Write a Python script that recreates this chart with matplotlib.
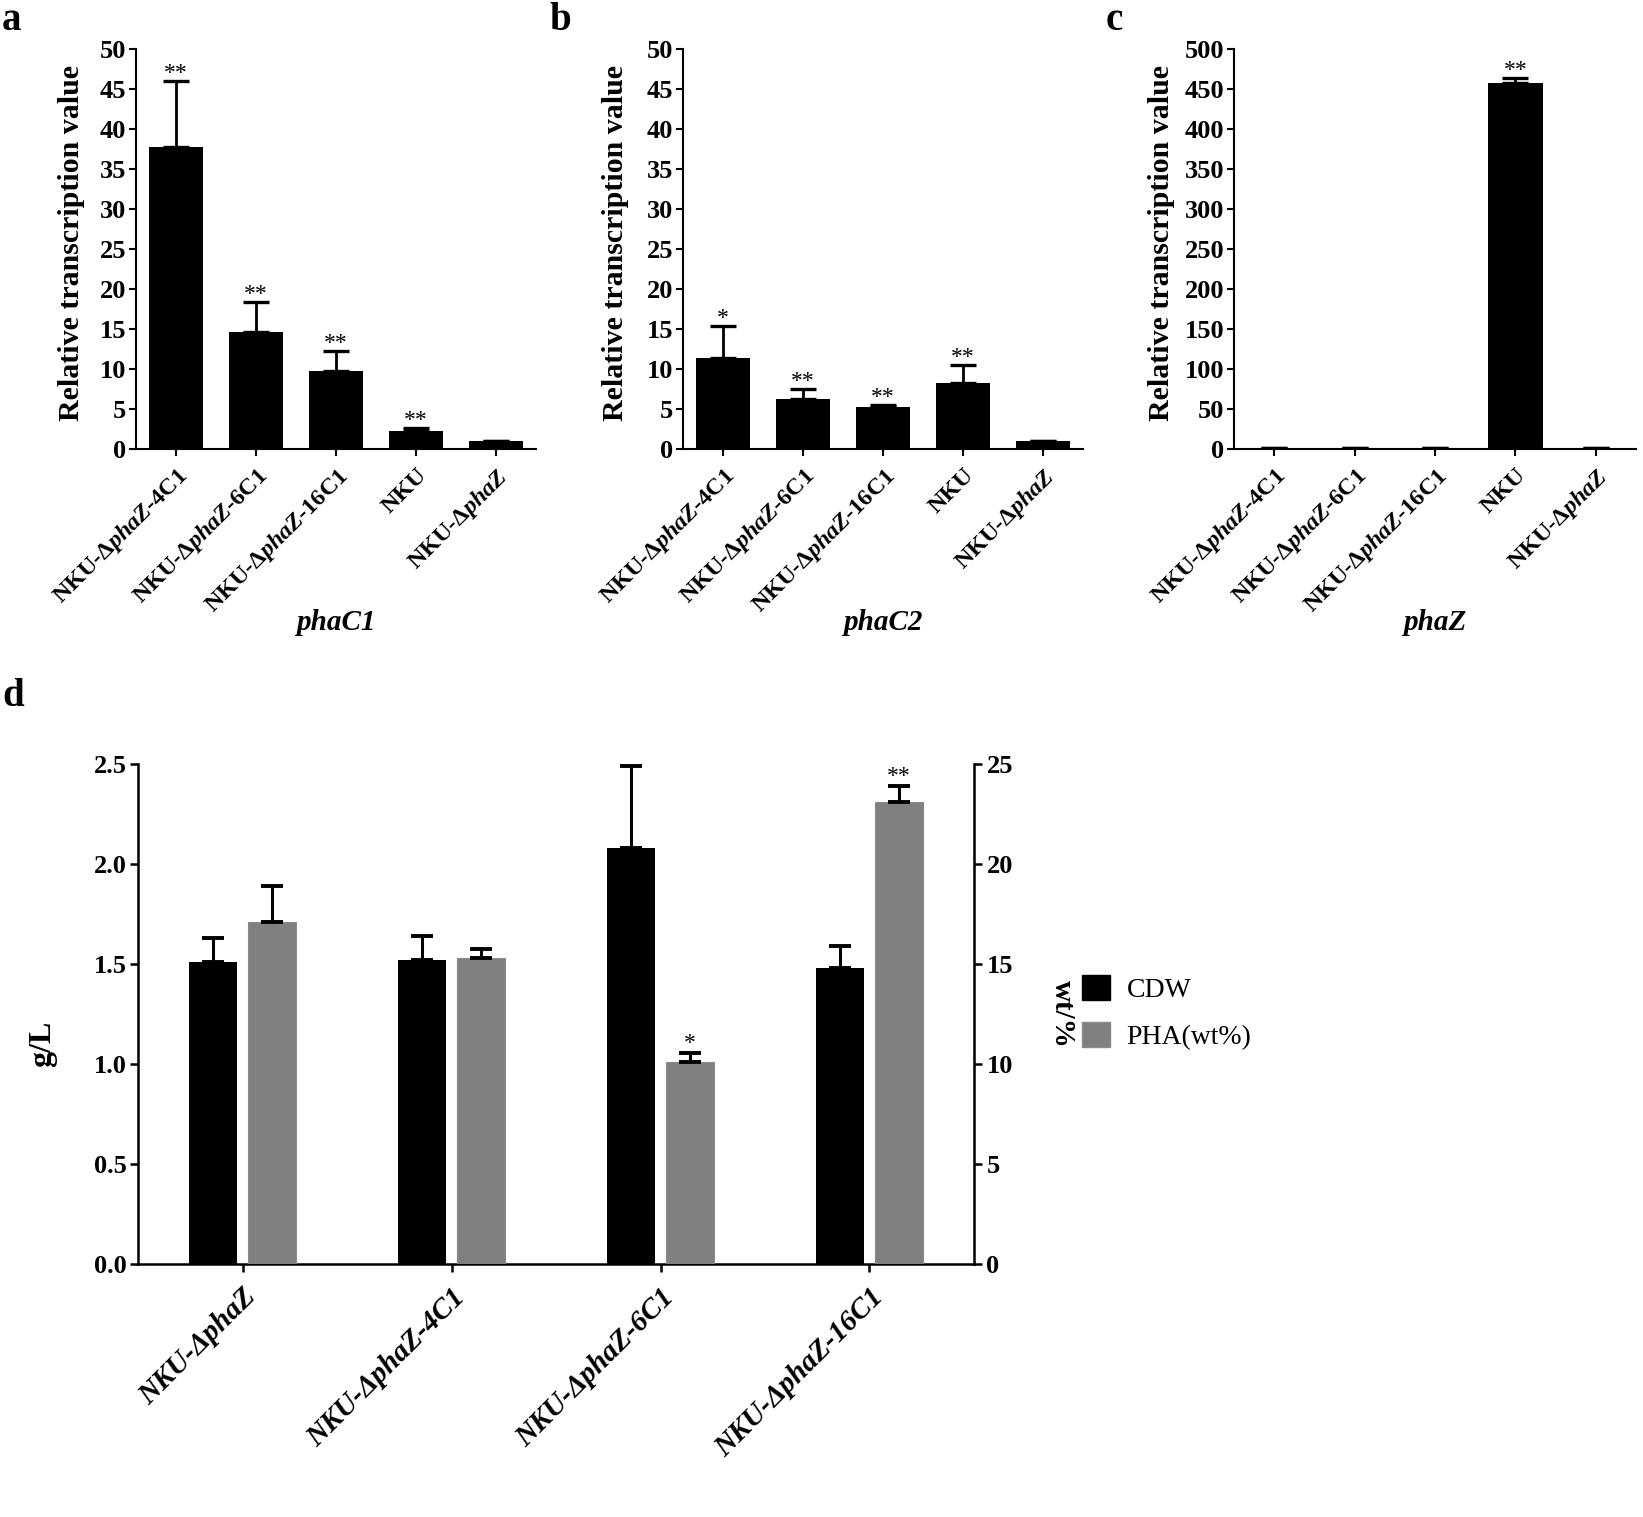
import numpy as np
import matplotlib
matplotlib.use("Agg")
import matplotlib.pyplot as plt
from matplotlib.patches import Patch

plt.rcParams['font.family'] = ['Liberation Serif', 'DejaVu Serif']
plt.rcParams['mathtext.fontset'] = 'custom'
plt.rcParams['mathtext.rm'] = 'Liberation Serif:bold'
plt.rcParams['mathtext.bf'] = 'Liberation Serif:bold'
plt.rcParams['mathtext.it'] = 'Liberation Serif:italic:bold'

# ---------------- data ----------------
strains_abc = ["NKU-\u0394$\\mathit{phaZ}$-4C1", "NKU-\u0394$\\mathit{phaZ}$-6C1",
               "NKU-\u0394$\\mathit{phaZ}$-16C1", "NKU", "NKU-\u0394$\\mathit{phaZ}$"]

phaC1_mean = [37.7, 14.6, 9.7, 2.3, 1.0]
phaC1_sd = [8.3, 3.8, 2.5, 0.3, 0.05]
phaC1_sig = ["**", "**", "**", "**", ""]

phaC2_mean = [11.4, 6.3, 5.2, 8.3, 1.0]
phaC2_sd = [4.0, 1.2, 0.3, 2.2, 0.05]
phaC2_sig = ["*", "**", "**", "**", ""]

phaZ_mean = [0.9, 1.3, 1.0, 458.0, 1.0]
phaZ_sd = [0.1, 0.2, 0.1, 6.0, 0.1]
phaZ_sig = ["", "", "", "**", ""]

strains_d = ["NKU-\u0394phaZ", "NKU-\u0394phaZ-4C1", "NKU-\u0394phaZ-6C1", "NKU-\u0394phaZ-16C1"]
cdw_mean = [1.51, 1.52, 2.08, 1.48]
cdw_sd = [0.12, 0.12, 0.41, 0.11]
cdw_sig = ["", "", "", ""]
pha_mean = [17.1, 15.3, 10.1, 23.1]
pha_sd = [1.8, 0.45, 0.45, 0.8]
pha_sig = ["", "", "*", "**"]

# ---------------- figure ----------------
W, H = 1643, 1517
fig = plt.figure(figsize=(W / 100, H / 100), dpi=100)


def px_axes(l, t, r, b):
    return fig.add_axes([l / W, 1 - b / H, (r - l) / W, (b - t) / H])


def style_axes(ax, lw=1.5):
    for s in ["top", "right"]:
        ax.spines[s].set_visible(False)
    for s in ["left", "bottom"]:
        ax.spines[s].set_linewidth(lw)
    ax.tick_params(direction="out", width=lw, length=5, pad=2)


def bar_panel(ax, means, sds, sigs, ymax, yticks, gene, ylab_x):
    x = np.arange(len(means))
    ax.bar(x, means, width=0.68, color="black", zorder=2)
    ax.errorbar(x, means, yerr=[np.zeros(len(sds)), sds], fmt="none",
                ecolor="black", elinewidth=2.0, capsize=9.5, capthick=2.4, zorder=3)
    for xi, m, s, t in zip(x, means, sds, sigs):
        if t:
            ax.annotate(t, (xi, m + s), xytext=(0, 1.5), textcoords="offset points",
                        ha="center", va="baseline", fontsize=17)
    ax.set_xlim(-0.5, len(means) - 0.5)
    ax.set_ylim(0, ymax)
    ax.set_yticks(yticks)
    ax.set_xticks(x)
    ax.set_xticklabels(strains_abc, rotation=45, ha="right", rotation_mode="anchor",
                       fontsize=17.5, fontweight="bold")
    for lab in ax.get_yticklabels():
        lab.set_fontsize(19)
        lab.set_fontweight("bold")
    style_axes(ax)
    ax.set_ylabel("Relative transcription value", fontsize=21.5, fontweight="bold")
    ax.yaxis.set_label_coords(ylab_x, 0.515)
    ax.tick_params(axis="x", pad=6)
    bb = ax.get_position()
    fig.text((bb.x0 + bb.x1) / 2, 1 - 622 / H, gene, fontsize=21, fontweight="bold",
             fontstyle="italic", ha="center", va="center")


ax_a = px_axes(136, 49, 536, 449)
bar_panel(ax_a, phaC1_mean, phaC1_sd, phaC1_sig, 50, np.arange(0, 51, 5), "phaC1", -0.128)
ax_b = px_axes(683, 49, 1083, 449)
bar_panel(ax_b, phaC2_mean, phaC2_sd, phaC2_sig, 50, np.arange(0, 51, 5), "phaC2", -0.134)
ax_c = px_axes(1234, 49, 1636, 449)
bar_panel(ax_c, phaZ_mean, phaZ_sd, phaZ_sig, 500, np.arange(0, 501, 50), "phaZ", -0.146)

for letter, xpx, ypx in [("a", 2, 30), ("b", 549, 30), ("c", 1106, 30), ("d", 2, 706)]:
    fig.text(xpx / W, 1 - ypx / H, letter, fontsize=28, fontweight="bold",
             ha="left", va="baseline")

# ---------------- panel d ----------------
ax_d = px_axes(138, 764, 974, 1264)
ax_d2 = ax_d.twinx()
xd = np.arange(len(strains_d))
off, bw = 0.142, 0.232
ax_d.bar(xd - off, cdw_mean, width=bw, color="black", zorder=2)
ax_d.errorbar(xd - off, cdw_mean, yerr=[np.zeros(4), cdw_sd], fmt="none", ecolor="black",
              elinewidth=2.2, capsize=8, capthick=2.8, zorder=3)
ax_d2.bar(xd + off, pha_mean, width=bw, color="#808080", edgecolor="#8a8a8a",
          linewidth=0.8, zorder=2)
ax_d2.errorbar(xd + off, pha_mean, yerr=[np.zeros(4), pha_sd], fmt="none", ecolor="black",
               elinewidth=2.2, capsize=8, capthick=2.8, zorder=3)
for xi, m, s, t in zip(xd + off, pha_mean, pha_sd, pha_sig):
    if t:
        ax_d2.annotate(t, (xi, m + s), xytext=(0, 3), textcoords="offset points",
                       ha="center", va="baseline", fontsize=17)

ax_d.set_xlim(-0.5, len(strains_d) - 0.5)
ax_d.set_ylim(0, 2.5)
ax_d2.set_ylim(0, 25)
ax_d.set_yticks(np.arange(0, 2.51, 0.5))
ax_d.set_yticklabels([f"{v:.1f}" for v in np.arange(0, 2.51, 0.5)], fontsize=19,
                     fontweight="bold")
ax_d2.set_yticks(np.arange(0, 26, 5))
ax_d2.set_yticklabels([str(v) for v in range(0, 26, 5)], fontsize=19, fontweight="bold")
ax_d.set_xticks(xd)
ax_d.set_xticklabels(strains_d, rotation=45, ha="right", rotation_mode="anchor",
                     fontsize=21, fontweight="bold", fontstyle="italic")
ax_d.spines["top"].set_visible(False)
ax_d2.spines["top"].set_visible(False)
ax_d2.spines["left"].set_visible(False)
ax_d2.spines["bottom"].set_visible(False)
ax_d.spines["right"].set_visible(False)
for s in ["left", "bottom"]:
    ax_d.spines[s].set_linewidth(1.8)
ax_d2.spines["right"].set_linewidth(1.8)
ax_d.tick_params(direction="out", width=1.8, length=6, pad=2)
ax_d.tick_params(axis="x", pad=8)
ax_d2.tick_params(direction="out", width=1.8, length=6, pad=3)
ax_d.set_ylabel("g/L", fontsize=23, fontweight="bold")
ax_d.yaxis.set_label_coords(-0.097, 0.44)
ax_d2.set_ylabel("wt/%", fontsize=21, fontweight="bold", rotation=270, va="center")
ax_d2.yaxis.set_label_coords(1.106, 0.50)

handles = [Patch(facecolor="black", edgecolor="black", label="CDW"),
           Patch(facecolor="#808080", edgecolor="#8a8a8a", label="PHA(wt%)")]
fig.legend(handles=handles, loc="upper left", bbox_to_anchor=(1082 / W, 1 - 975 / H),
           frameon=False, fontsize=20, handlelength=1.0, handleheight=1.0,
           handletextpad=0.6, labelspacing=0.7, borderpad=0, borderaxespad=0)

fig.savefig("out.png", dpi=100)
